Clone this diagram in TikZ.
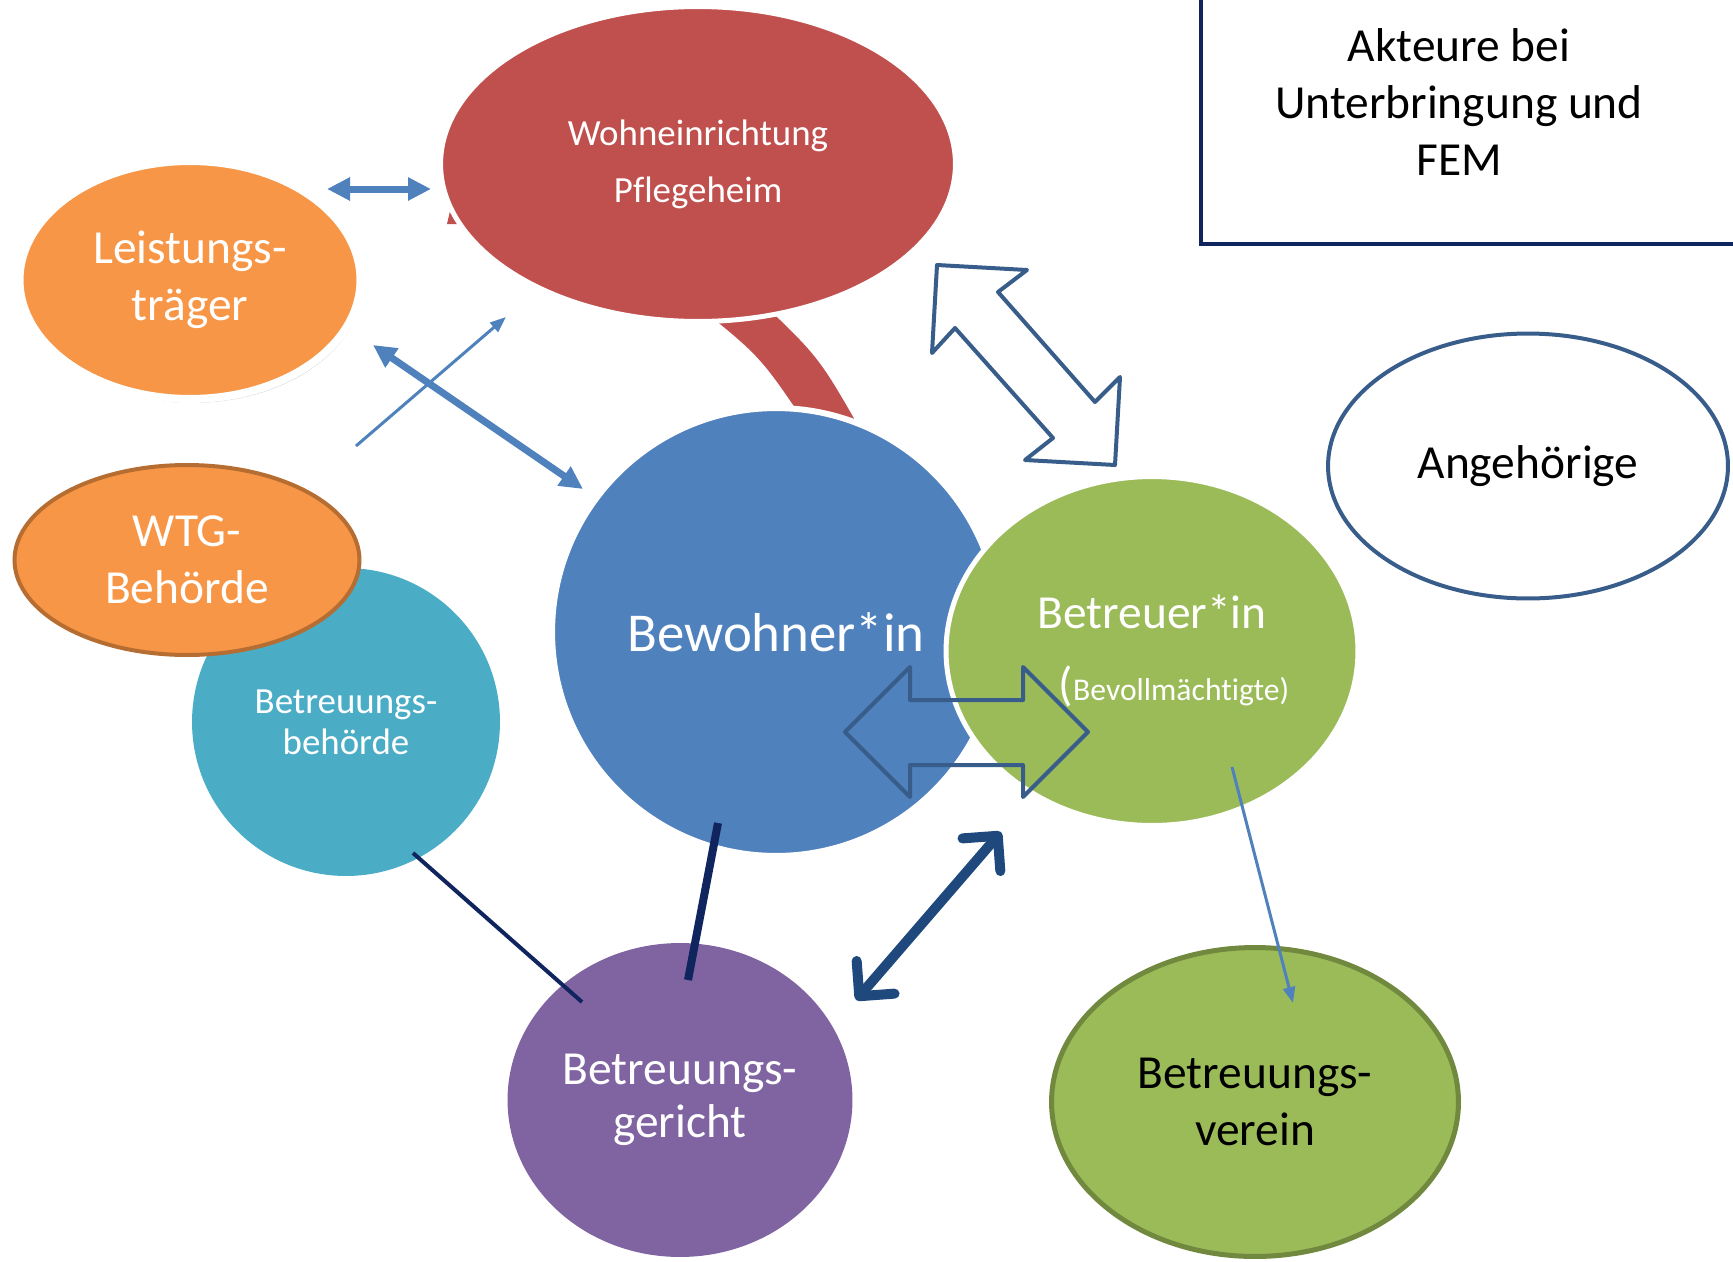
\documentclass[tikz,border=0pt]{standalone}
\usepackage{fontspec}
\setmainfont{Carlito}[Ligatures=NoCommon]
\usetikzlibrary{arrows.meta,shapes.geometric,shadows}
\usepackage{xcolor}
\definecolor{rot}{HTML}{C0504D}
\definecolor{orange}{HTML}{F79646}
\definecolor{blau}{HTML}{4F81BD}
\definecolor{gruen}{HTML}{9BBB59}
\definecolor{tuerkis}{HTML}{4BACC6}
\definecolor{lila}{HTML}{8064A2}
\definecolor{braun}{HTML}{B66D31}
\definecolor{oliv}{HTML}{71893F}
\definecolor{rand}{HTML}{385D8A}
\definecolor{navy}{HTML}{10245E}
\definecolor{dunkel}{HTML}{1F497D}

\begin{document}
\begin{tikzpicture}[
    x=0.02cm, y=-0.02cm,
    blase/.style={ellipse, inner sep=0pt, align=center, text=white},
    gross/.style={font=\fontsize{27}{32.5}\selectfont},
    pfeil/.style={-{Triangle[length=0.32cm, width=0.24cm]}, line width=0.06cm, blau},
    dpfeil/.style={{Triangle[length=0.46cm, width=0.44cm]}-{Triangle[length=0.46cm, width=0.44cm]}, line width=0.14cm, blau},
    barbpfeil/.style={{Straight Barb[length=0.5cm, width=1.0cm, line cap=round, line join=round]}-{Straight Barb[length=0.5cm, width=1.0cm, line cap=round, line join=round]}, line width=0.2cm, line cap=round, dunkel},
    linie/.style={navy, line width=0.08cm},
    blockpfeil/.style={draw=rand, line width=0.08cm, line join=round}
]
\useasboundingbox (0,0) rectangle (1733,1261);
\clip (0,0) rectangle (1733,1261);

% red band between Wohneinrichtung and Bewohner
\fill[rot] (694,303) .. controls (760,356) .. (806,424) -- (864,436) .. controls (819,357) .. (757,298) -- cycle;
\fill[rot] (447,224) -- (470,224) -- (470,200) -- (451,207) -- cycle;

\node[blase, fill=rot, draw=white, line width=0.1cm, minimum width=10.3cm, minimum height=6.3cm,
      font=\fontsize{21}{32.3}\selectfont] (wohn) at (698,164) {Wohneinrichtung\\Pflegeheim};
\node[blase, gross, fill=orange, draw=white, line width=0.16cm, minimum width=6.82cm, minimum height=4.76cm,
      drop shadow={shadow xshift=0.04cm, shadow yshift=-0.08cm, fill=black!35, opacity=0.5}] (leist) at (190,280) {Leistungs-\\träger};
\node[blase, fill=tuerkis, minimum width=6.16cm, minimum height=6.16cm,
      font=\fontsize{21}{23.2}\selectfont] (bbeh) at (346,722) {Betreuungs-\\behörde};
\node[blase, gross, fill=orange, draw=braun, line width=0.08cm, minimum width=6.9cm, minimum height=3.8cm] (wtg) at (187,560) {WTG-\\Behörde};
\node[blase, fill=blau, draw=white, line width=0.12cm, minimum width=8.96cm, minimum height=8.96cm,
      font=\fontsize{31.2}{37}\selectfont] (bew) at (776,632) {Bewohner*in};
\node[blase, fill=gruen, draw=white, line width=0.1cm, minimum width=8.24cm, minimum height=6.98cm,
      font=\fontsize{27}{41.4}\selectfont] (betr) at (1152,651) {Betreuer*in\\\hspace*{0.88cm}({\fontsize{18}{20}\selectfont Bevollmächtigte)}};
\node[blase, gross, fill=white, text=black, draw=rand, line width=0.08cm, minimum width=8cm, minimum height=5.3cm] (angeh) at (1528,466) {Angehörige};
\node[blase, fill=lila, minimum width=6.9cm, minimum height=6.28cm,
      font=\fontsize{27}{30}\selectfont] (ger) at (680,1100) {Betreuungs-\\gericht};
\node[blase, gross, fill=gruen, text=black, draw=oliv, line width=0.1cm, minimum width=8.14cm, minimum height=6.18cm] (verein) at (1255,1102) {Betreuungs-\\verein};

% title box
\node[gross, align=center, inner sep=0pt] (titel) at (1459,102) {Akteure bei\\Unterbringung und\\FEM};
\draw[navy, line width=0.09cm] (1201,-20) -- (1201,244) -- (1760,244);

% block arrows
\draw[blockpfeil] (937,265) -- (1027,270) -- (998,292) -- (1095,402) -- (1120,377) -- (1115,465)
    -- (1025,460) -- (1053,438) -- (955,328) -- (932,353) -- cycle;
\draw[blockpfeil] (845,732) -- (910,667) -- (910,700) -- (1023,700) -- (1023,667) -- (1088,732)
    -- (1023,797) -- (1023,765) -- (910,765) -- (910,797) -- cycle;

% connector end points
\coordinate (a1) at (327,189);
\coordinate (a2) at (431,189);
\coordinate (b1) at (373,345);
\coordinate (b2) at (583,489);
\coordinate (c1) at (356,446);
\coordinate (c2) at (506,317);
\coordinate (d1) at (1232,767);
\coordinate (d2) at (1293,1003);
\coordinate (e1) at (1001,832);
\coordinate (e2) at (856,1000);
\coordinate (f1) at (718,823);
\coordinate (f2) at (688,980);
\coordinate (g1) at (413,853);
\coordinate (g2) at (582,1002);

\draw[dpfeil] (a1) -- (a2);
\draw[dpfeil] (b1) -- (b2);
\draw[pfeil] (c1) -- (c2);
\draw[pfeil] (d1) -- (d2);
\draw[barbpfeil] (e2) -- (e1);
\draw[linie, line width=0.16cm] (f1) -- (f2);
\draw[linie] (g1) -- (g2);
\end{tikzpicture}
\end{document}
